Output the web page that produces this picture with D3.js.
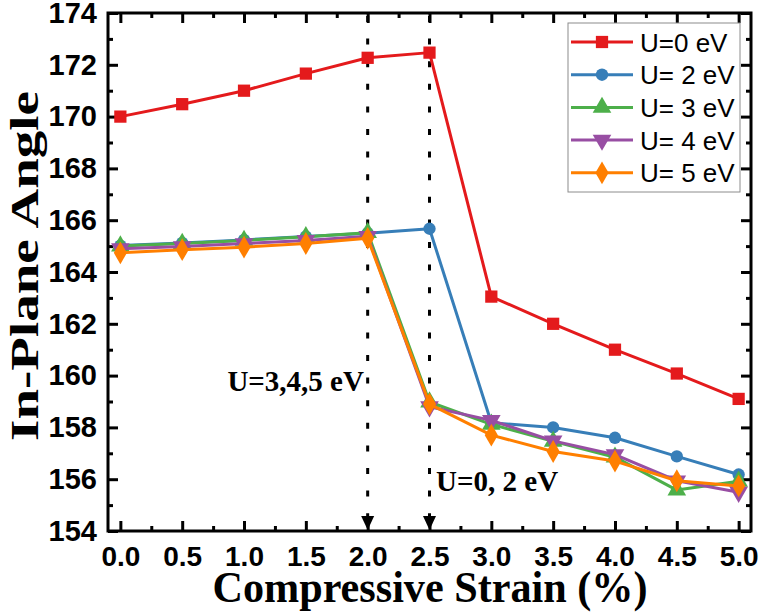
<!DOCTYPE html>
<html>
<head>
<meta charset="utf-8">
<script src="https://cdn.jsdelivr.net/npm/d3@7"></script>
<style>
  html, body { margin: 0; padding: 0; background: #fff; }
  svg { display: block; }
</style>
</head>
<body>
<svg id="chart" width="762" height="615"></svg>
<script>
// Compressive strain (%) sampled for each Hubbard U value
const strain = [0.0, 0.5, 1.0, 1.5, 2.0, 2.5, 3.0, 3.5, 4.0, 4.5, 5.0];

// In-plane angle (degrees) per series
const angleU0 = [170.0, 170.48, 171.0, 171.66, 172.27, 172.47, 163.05, 162.0, 161.0, 160.08, 159.1];
const angleU2 = [165.02, 165.12, 165.24, 165.37, 165.5, 165.67, 158.18, 158.0, 157.6, 156.88, 156.18];
const angleU3 = [165.0, 165.1, 165.22, 165.36, 165.52, 158.98, 158.12, 157.46, 156.85, 155.58, 155.92];
const angleU4 = [164.9, 164.98, 165.1, 165.22, 165.38, 158.8, 158.27, 157.48, 156.95, 155.94, 155.5];
const angleU5 = [164.74, 164.86, 164.96, 165.1, 165.3, 158.9, 157.7, 157.07, 156.7, 155.94, 155.74];

const seriesNames = ["U=0 eV", "U= 2 eV", "U= 3 eV", "U= 4 eV", "U= 5 eV"];
const seriesValues = [angleU0, angleU2, angleU3, angleU4, angleU5];
const seriesColors = ["#e41a1c", "#377eb8", "#4daf4a", "#984ea3", "#ff7f00"];
const seriesSymbols = [d3.symbolSquare, d3.symbolCircle, d3.symbolTriangle, "triangleDown", d3.symbolDiamond];

// Axis ticks
const xTicks = [0.0, 0.5, 1.0, 1.5, 2.0, 2.5, 3.0, 3.5, 4.0, 4.5, 5.0];
const xMinorTicks = [0.25, 0.75, 1.25, 1.75, 2.25, 2.75, 3.25, 3.75, 4.25, 4.75];
const yTicks = [154, 156, 158, 160, 162, 164, 166, 168, 170, 172, 174];
const yMinorTicks = [155, 157, 159, 161, 163, 165, 167, 169, 171, 173];

// Transition markers (strain where the angle drops) and their labels
const transitionStrain = [2.0, 2.5];
const transitionLabels = [
  { text: "U=3,4,5 eV", x: 1.97, y: 159.4 },
  { text: "U=0, 2 eV", x: 2.553, y: 155.54 }
];

const svg = d3.select("#chart");
const plotLeft = 108, plotRight = 751, plotTop = 13, plotBottom = 531;

const x = d3.scaleLinear().domain([-0.1, 5.1]).range([plotLeft, plotRight]);
const y = d3.scaleLinear().domain([154, 174]).range([plotBottom, plotTop]);

const black = "#000";
const tickFont = "'Liberation Sans', Arial, sans-serif";
const serifFont = "'Liberation Serif', 'Times New Roman', serif";

// Axes with inward ticks on all four sides
function styleAxis(g) {
  g.select(".domain").remove();
  g.selectAll(".tick line").attr("stroke", black).attr("stroke-width", 3);
}

const majorLen = 10, minorLen = 5;

svg.append("g").attr("transform", `translate(0,${plotBottom})`)
  .call(d3.axisBottom(x).tickValues(xTicks).tickSizeInner(-majorLen).tickSizeOuter(0)
    .tickPadding(18).tickFormat(d3.format(".1f")))
  .call(styleAxis)
  .call(g => g.selectAll("text").attr("font-family", tickFont).attr("font-weight", "bold")
    .attr("font-size", 28).attr("fill", black).attr("dy", "0.71em").attr("y", 15));

svg.append("g").attr("transform", `translate(0,${plotBottom})`)
  .call(d3.axisBottom(x).tickValues(xMinorTicks).tickSizeInner(-minorLen).tickSizeOuter(0).tickFormat(""))
  .call(styleAxis);

svg.append("g").attr("transform", `translate(0,${plotTop})`)
  .call(d3.axisTop(x).tickValues(xTicks).tickSizeInner(-majorLen).tickSizeOuter(0).tickFormat(""))
  .call(styleAxis);
svg.append("g").attr("transform", `translate(0,${plotTop})`)
  .call(d3.axisTop(x).tickValues(xMinorTicks).tickSizeInner(-minorLen).tickSizeOuter(0).tickFormat(""))
  .call(styleAxis);

svg.append("g").attr("transform", `translate(${plotLeft},0)`)
  .call(d3.axisLeft(y).tickValues(yTicks).tickSizeInner(-majorLen).tickSizeOuter(0)
    .tickPadding(11).tickFormat(d3.format("d")))
  .call(styleAxis)
  .call(g => g.selectAll("text").attr("font-family", tickFont).attr("font-weight", "bold")
    .attr("font-size", 29).attr("fill", black).attr("x", -11));
svg.append("g").attr("transform", `translate(${plotLeft},0)`)
  .call(d3.axisLeft(y).tickValues(yMinorTicks).tickSizeInner(-minorLen).tickSizeOuter(0).tickFormat(""))
  .call(styleAxis);

svg.append("g").attr("transform", `translate(${plotRight},0)`)
  .call(d3.axisRight(y).tickValues(yTicks).tickSizeInner(-majorLen).tickSizeOuter(0).tickFormat(""))
  .call(styleAxis);
svg.append("g").attr("transform", `translate(${plotRight},0)`)
  .call(d3.axisRight(y).tickValues(yMinorTicks).tickSizeInner(-minorLen).tickSizeOuter(0).tickFormat(""))
  .call(styleAxis);

// Plot frame
svg.append("rect")
  .attr("x", plotLeft).attr("y", plotTop)
  .attr("width", plotRight - plotLeft).attr("height", plotBottom - plotTop)
  .attr("fill", "none").attr("stroke", black).attr("stroke-width", 3);

// Dotted transition guides with arrowheads on the strain axis
const arrowH = 13, arrowW = 13;
transitionStrain.forEach(s => {
  svg.append("line")
    .attr("x1", x(s)).attr("x2", x(s))
    .attr("y1", plotTop + 3).attr("y2", plotBottom - arrowH - 2)
    .attr("stroke", black).attr("stroke-width", 3)
    .attr("stroke-dasharray", "6,16.6");
  svg.append("path")
    .attr("d", `M${x(s) - arrowW / 2},${plotBottom - 2 - arrowH} L${x(s) + arrowW / 2},${plotBottom - 2 - arrowH} L${x(s)},${plotBottom - 1} Z`)
    .attr("fill", black);
});

transitionLabels.forEach(t => {
  svg.append("text")
    .attr("x", x(t.x)).attr("y", y(t.y))
    .attr("font-family", serifFont).attr("font-weight", "bold")
    .attr("font-size", 29).attr("fill", black)
    .attr("text-anchor", t.x < 2.2 ? "end" : "start")
    .text(t.text);
});

// Marker generator
function symbolPath(sym, size) {
  if (sym === "triangleDown") {
    return d3.symbol().type(d3.symbolTriangle).size(size)();
  }
  return d3.symbol().type(sym).size(size)();
}
const symbolSizes = [150, 120, 150, 150, 150];

const line = d3.line().x((d, i) => x(strain[i])).y(d => y(d));

seriesValues.forEach((vals, k) => {
  const g = svg.append("g");
  g.append("path")
    .attr("d", line(vals))
    .attr("fill", "none").attr("stroke", seriesColors[k])
    .attr("stroke-width", 3).attr("stroke-linejoin", "round");
  g.selectAll("path.m").data(vals).join("path")
    .attr("class", "m")
    .attr("d", symbolPath(seriesSymbols[k], symbolSizes[k]))
    .attr("transform", (d, i) => `translate(${x(strain[i])},${y(d)})` + (seriesSymbols[k] === "triangleDown" ? " rotate(180)" : ""))
    .attr("fill", seriesColors[k]);
});

// Axis titles
svg.append("text")
  .attr("x", 430).attr("y", 602)
  .attr("text-anchor", "middle")
  .attr("font-family", serifFont).attr("font-weight", "bold")
  .attr("font-size", 45).attr("fill", black)
  .attr("textLength", 435).attr("lengthAdjust", "spacingAndGlyphs")
  .text("Compressive Strain (%)");

svg.append("text")
  .attr("transform", "translate(38,266) rotate(-90)")
  .attr("text-anchor", "middle")
  .attr("font-family", serifFont).attr("font-weight", "bold")
  .attr("font-size", 39).attr("fill", black)
  .attr("textLength", 350).attr("lengthAdjust", "spacingAndGlyphs")
  .text("In-Plane Angle");

// Legend
const legend = svg.append("g");
legend.append("rect")
  .attr("x", 568).attr("y", 23).attr("width", 172).attr("height", 169)
  .attr("fill", "#fff").attr("stroke", "#8c8c8c").attr("stroke-width", 1);

seriesNames.forEach((name, k) => {
  const cy = 42 + k * 32.7;
  legend.append("line")
    .attr("x1", 571).attr("x2", 633).attr("y1", cy).attr("y2", cy)
    .attr("stroke", seriesColors[k]).attr("stroke-width", 3);
  legend.append("path")
    .attr("d", symbolPath(seriesSymbols[k], symbolSizes[k]))
    .attr("transform", `translate(602,${cy})` + (seriesSymbols[k] === "triangleDown" ? " rotate(180)" : ""))
    .attr("fill", seriesColors[k]);
  legend.append("text")
    .attr("x", 640).attr("y", cy + 9.5)
    .attr("font-family", tickFont).attr("font-size", 26).attr("fill", black)
    .text(name);
});
</script>
</body>
</html>
